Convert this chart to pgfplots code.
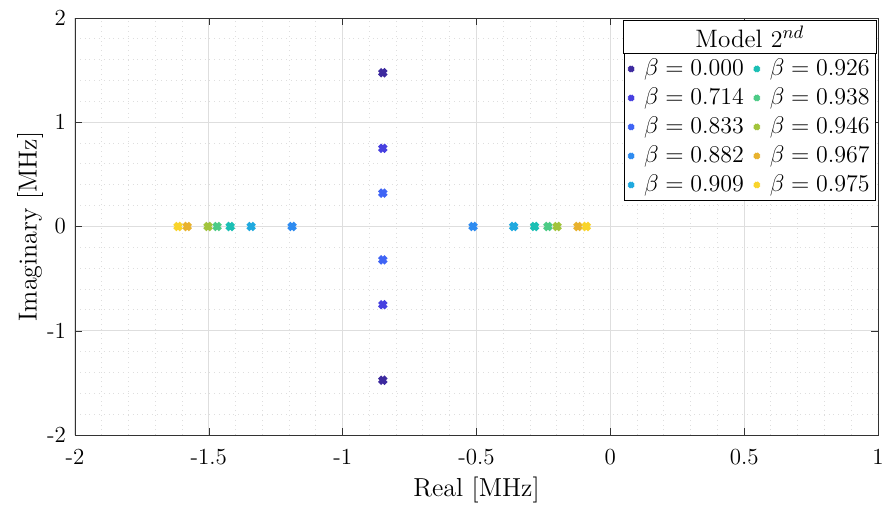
\documentclass[border=0pt]{standalone}
\usepackage{pgfplots}
\pgfplotsset{compat=1.18}
\usetikzlibrary{calc}
\definecolor{c1}{HTML}{3D2A9F}
\definecolor{c2}{HTML}{4740E0}
\definecolor{c3}{HTML}{3F64F5}
\definecolor{c4}{HTML}{2E8BF0}
\definecolor{c5}{HTML}{1FA9DF}
\definecolor{c6}{HTML}{1BBFB4}
\definecolor{c7}{HTML}{4DCB86}
\definecolor{c8}{HTML}{A2C43C}
\definecolor{c9}{HTML}{E8B22E}
\definecolor{c10}{HTML}{F9D42B}
\begin{document}
\begin{tikzpicture}
\begin{axis}[
  name=ax,
  scale only axis, width=401.5pt, height=208.5pt,
  xmin=-2, xmax=1, ymin=-2, ymax=2,
  xtick={-2,-1.5,-1,-0.5,0,0.5,1}, ytick={-2,-1,0,1,2},
  minor x tick num=4, minor y tick num=4,
  grid=both,
  major grid style={black!13, line width=0.5pt},
  minor grid style={black!13, dotted, line width=0.5pt},
  axis line style={black!80}, tick style={black!80},
  major tick length=3.5pt, minor tick length=0pt,
  tick align=inside,
  /pgf/number format/assume math mode=true,
  ticklabel style={font=\fontsize{11.5}{13}\selectfont},
  xticklabel shift=3.5pt, yticklabel shift=1pt,
  label style={font=\fontsize{13}{15}\selectfont},
  xlabel={Real [MHz]}, ylabel={Imaginary [MHz]},
  xlabel style={at={(0.5,-0.1319)}, anchor=center},
  ylabel style={at={(-0.056,0.5)}, anchor=center},
  every axis plot/.append style={only marks, mark=x, mark size=2.3pt, line width=2.2pt},
  legend image code/.code={\draw[#1, mark size=1.6pt, line width=1.8pt] plot coordinates {(0pt,0pt)};
    \path[draw=none, fill=none] (-3pt,0pt) -- (4pt,0pt);},
  legend columns=2,
  legend cell align=left,
  legend style={name=leg, at={(0.9975,0.916)}, anchor=north east, draw=black, fill=white,
    font=\fontsize{12.6}{15}\selectfont, inner sep=0.5pt, row sep=0pt,
    nodes={inner xsep=2.5pt, inner ysep=1pt, text height=9.5pt, text depth=3pt},
    /tikz/every odd column/.append style={nodes={inner xsep=0.5pt}},
    /tikz/every even column/.append style={column sep=1pt}},
]
\addplot[c1] coordinates {(-0.85,1.475) (-0.85,-1.475)};
\addlegendentry{$\beta = 0.000$}
\addplot[c6] coordinates {(-1.420,0) (-0.283,0)};
\addlegendentry{$\beta = 0.926$}
\addplot[c2] coordinates {(-0.85,0.75) (-0.85,-0.75)};
\addlegendentry{$\beta = 0.714$}
\addplot[c7] coordinates {(-1.469,0) (-0.233,0)};
\addlegendentry{$\beta = 0.938$}
\addplot[c3] coordinates {(-0.85,0.32) (-0.85,-0.32)};
\addlegendentry{$\beta = 0.833$}
\addplot[c8] coordinates {(-1.503,0) (-0.199,0)};
\addlegendentry{$\beta = 0.946$}
\addplot[c4] coordinates {(-1.189,0) (-0.513,0)};
\addlegendentry{$\beta = 0.882$}
\addplot[c9] coordinates {(-1.581,0) (-0.121,0)};
\addlegendentry{$\beta = 0.967$}
\addplot[c5] coordinates {(-1.342,0) (-0.361,0)};
\addlegendentry{$\beta = 0.909$}
\addplot[c10] coordinates {(-1.615,0) (-0.090,0)};
\addlegendentry{$\beta = 0.975$}
\end{axis}
\draw[black, fill=white] (leg.north west) rectangle ($(leg.north east)+(0,16.5pt)$);
\node[font=\fontsize{12.6}{15}\selectfont] at ($(leg.north)+(0,8.25pt)$) {Model $2^{nd}$};
\pgfresetboundingbox
\path ($(ax.south west)+(-37.5pt,-39.5pt)$) rectangle ($(ax.north east)+(2.5pt,9pt)$);
\end{tikzpicture}
\end{document}
